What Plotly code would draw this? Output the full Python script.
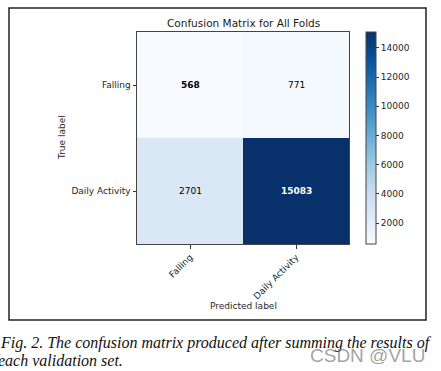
import plotly.graph_objects as go

# ---- data ----
true_labels = ["Falling", "Daily Activity"]
pred_labels = ["Falling", "Daily Activity"]
counts = [[568, 771],
          [2701, 15083]]
cbar_ticks = [2000, 4000, 6000, 8000, 10000, 12000, 14000]
title_text = "Confusion Matrix for All Folds"
caption_1 = "Fig. 2. The confusion matrix produced after summing the results of"
caption_2 = "each validation set."
watermark = "CSDN @VLU"

blues = ["#f7fbff", "#deebf7", "#c6dbef", "#9ecae1", "#6baed6",
         "#4292c6", "#2171b5", "#08519c", "#08306b"]
colorscale = [[i / (len(blues) - 1), c] for i, c in enumerate(blues)]

W, H = 441, 371
L, R, T, B = 137, 349, 32, 244  # plot area in pixels


def px(x):
    return (x - L) / (R - L)


def py(y):
    return (B - y) / (B - T)


FONT = "DejaVu Sans"
TXT = "#262626"
zmin = min(min(r) for r in counts)
zmax = max(max(r) for r in counts)

fig = go.Figure()
fig.add_trace(go.Heatmap(
    z=counts, x=pred_labels, y=true_labels,
    colorscale=colorscale, zmin=zmin, zmax=zmax,
    hoverinfo="skip",
    colorbar=dict(
        x=px(366), xanchor="left", xpad=0, xref="paper",
        y=0.5, yanchor="middle", ypad=0, len=1, lenmode="fraction",
        thickness=10, outlinewidth=1, outlinecolor="#444",
        tickvals=cbar_ticks, tickformat="d", ticks="outside", ticklen=3, tickwidth=1,
        tickcolor="#333", tickfont=dict(family=FONT, size=9, color=TXT),
    ),
))

annotations = []
thresh = zmax / 2
for i, row in enumerate(counts):
    for j, v in enumerate(row):
        t = str(v)
        if i == j:
            t = "<b>" + t + "</b>"
        annotations.append(dict(
            x=pred_labels[j], y=true_labels[i], xref="x", yref="y",
            text=t, showarrow=False,
            font=dict(family=FONT, size=9, color="white" if v > thresh else "black"),
        ))

annotations += [
    dict(x=0.5, y=py(23), xref="paper", yref="paper", text=title_text,
         showarrow=False, xanchor="center", yanchor="middle",
         font=dict(family=FONT, size=10.5, color="#1a1a1a")),
    dict(x=px(62), y=py(138), xref="paper", yref="paper", text="True label",
         showarrow=False, textangle=-90, xanchor="center", yanchor="middle",
         font=dict(family=FONT, size=9, color=TXT)),
    dict(x=px(243), y=py(306), xref="paper", yref="paper", text="Predicted label",
         showarrow=False, xanchor="center", yanchor="middle",
         font=dict(family=FONT, size=9, color=TXT)),
    dict(x=px(-2), y=py(343), xref="paper", yref="paper", text=caption_1,
         showarrow=False, xanchor="left", yanchor="middle",
         font=dict(family="Liberation Serif", size=16, color="#111", style="italic")),
    dict(x=px(-4), y=py(360), xref="paper", yref="paper", text=caption_2,
         showarrow=False, xanchor="left", yanchor="middle",
         font=dict(family="Liberation Serif", size=16, color="#111", style="italic")),
    dict(x=px(427), y=py(355), xref="paper", yref="paper", text=watermark,
         showarrow=False, xanchor="right", yanchor="middle",
         font=dict(family="Liberation Sans", size=19, color="rgba(120,120,120,0.7)")),
]

fig.update_layout(
    width=W, height=H, autosize=False,
    margin=dict(l=L, r=W - R, t=T, b=H - B, pad=0),
    paper_bgcolor="white", plot_bgcolor="white",
    showlegend=False,
    annotations=annotations,
    shapes=[dict(type="rect", xref="paper", yref="paper",
                 x0=px(9), x1=px(426), y0=py(320), y1=py(8),
                 line=dict(color="#222", width=1.5))],
    xaxis=dict(showline=True, mirror=True, linecolor="#444", linewidth=1,
               ticks="outside", ticklen=3.5, tickcolor="#333", tickangle=-45,
               tickfont=dict(family=FONT, size=9, color=TXT), showgrid=False,
               zeroline=False, fixedrange=True),
    yaxis=dict(showline=True, mirror=True, linecolor="#444", linewidth=1,
               ticks="outside", ticklen=3.5, tickcolor="#333",
               autorange="reversed",
               tickfont=dict(family=FONT, size=9, color=TXT), showgrid=False,
               zeroline=False, fixedrange=True),
)

fig.write_html("out.html", config={"displayModeBar": False},
               post_script="document.body.style.margin='0';document.body.style.overflow='hidden';")
